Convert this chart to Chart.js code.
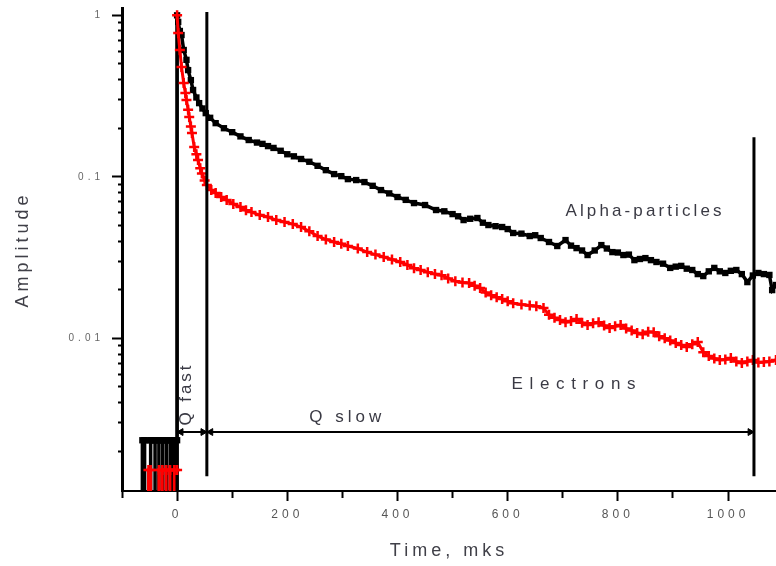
<!DOCTYPE html>
<html>
<head>
<meta charset="utf-8">
<script src="https://cdn.jsdelivr.net/npm/chart.js@4/dist/chart.umd.min.js"></script>
<style>
html,body{margin:0;padding:0;background:#fff;}
#wrap{width:776px;height:566px;}
</style>
</head>
<body>
<div id="wrap"><canvas id="c" width="776" height="566"></canvas></div>
<script>
// ---------- data ----------
const LOW = 0.0008; // below the axis floor -> drawn as drops to the axis
const alphaX = [-63,-63,-59,-59,-59,-48,-48,-48,-40,-40,-40,-33,-33,-33,-26,-26,-26,-19,-19,-19,-12,-12,-12,-6,-6,-6,0,0,
  0,2,5,8,12,17,20,25,29,35,40,46,52,60,70,85,100,115,130,145,155,165,175,188,200,212,225,240,255,270,285,298,310,325,340,355,370,385,400,415,430,450,470,485,500,510,520,532,545,555,565,578,590,600,610,625,640,650,660,675,690,705,715,725,735,745,758,770,780,790,800,810,820,830,840,850,860,870,882,895,905,915,925,935,945,955,965,975,985,995,1005,1015,1025,1035,1045,1055,1065,1075,1080,1087];
const alphaY = [LOW,0.00234,0.00234,LOW,0.00234,0.00234,LOW,0.00234,0.00234,LOW,0.00234,0.00234,LOW,0.00234,0.00234,LOW,0.00234,0.00234,LOW,0.00234,0.00234,LOW,0.00234,0.00234,LOW,0.00234,0.00234,LOW,
  1.0,0.91,0.8,0.755,0.61,0.53,0.458,0.397,0.345,0.31,0.286,0.265,0.248,0.232,0.215,0.2,0.189,0.178,0.169,0.163,0.160,0.155,0.151,0.145,0.138,0.134,0.129,0.124,0.117,0.11,0.104,0.101,0.0968,0.0955,0.0928,0.088,0.0828,0.079,0.075,0.072,0.0688,0.0669,0.0623,0.0612,0.0588,0.057,0.054,0.055,0.0556,0.052,0.0503,0.0495,0.0489,0.0475,0.0449,0.0445,0.043,0.0435,0.0418,0.0395,0.0373,0.0406,0.0375,0.0362,0.035,0.0328,0.035,0.0378,0.036,0.0342,0.034,0.0328,0.033,0.0305,0.031,0.0314,0.0305,0.0297,0.029,0.0273,0.0278,0.0281,0.027,0.0265,0.025,0.0243,0.026,0.0273,0.026,0.0254,0.0262,0.0265,0.025,0.0223,0.0245,0.0254,0.025,0.0247,0.0199,0.0214];

const electronX = [-52,-52,-48,-48,-33,-33,-27,-27,-27,-20,-20,-20,-13,-13,-13,-5,-5,-5,0,0,
  0,2,5,8,12,15,17,20,22,25,27,31,35,38,42,45,50,54,62,70,80,90,102,115,125,135,150,165,180,195,210,225,240,255,270,285,298,310,328,345,360,375,390,405,418,430,442,455,468,480,492,505,518,530,540,550,560,570,580,590,600,610,625,640,652,665,675,685,695,705,715,725,735,745,755,765,775,785,795,805,815,825,835,845,855,865,875,885,895,905,915,925,935,945,955,965,975,985,995,1005,1015,1025,1035,1045,1055,1065,1075,1087];
const electronY = [LOW,0.00153,0.00153,LOW,LOW,0.00153,0.00153,LOW,0.00153,0.00153,LOW,0.00153,0.00153,LOW,0.00153,0.00153,LOW,0.00153,0.00153,LOW,
  1.0,0.777,0.61,0.479,0.381,0.33,0.299,0.26,0.235,0.205,0.187,0.153,0.138,0.127,0.113,0.105,0.095,0.0889,0.083,0.0794,0.075,0.0718,0.068,0.065,0.062,0.0605,0.058,0.0564,0.054,0.0525,0.051,0.0489,0.046,0.043,0.041,0.0395,0.0385,0.0373,0.036,0.0342,0.033,0.0319,0.0308,0.0297,0.0285,0.0272,0.0265,0.0257,0.025,0.0246,0.0235,0.0226,0.0222,0.022,0.0212,0.0205,0.0192,0.0185,0.018,0.0175,0.017,0.0165,0.0162,0.016,0.0158,0.0154,0.014,0.0134,0.013,0.0126,0.0128,0.0132,0.0125,0.0121,0.0124,0.0126,0.012,0.0116,0.0119,0.0121,0.0115,0.0112,0.0108,0.0106,0.011,0.0109,0.0103,0.01,0.0097,0.00935,0.0091,0.00883,0.0092,0.00948,0.0082,0.00777,0.0075,0.00734,0.0074,0.00755,0.0072,0.00703,0.0072,0.00734,0.0071,0.00713,0.0072,0.00734];

const xTickLabels = ['0','200','400','600','800','1000'];
const yTickLabels = ['1','0.1','0.01'];

// region markers (data units)
const regionLineX = [54, 1047];
const regionLineTop = [1.05, 0.176];
const regionLineBottom = 0.0014;
const arrowLevel = 0.00263;
const arrowSpan = [0, 1047];
const arrowHeadX = [7, 47, 61, 1040];
const arrowHeadRot = [-90, 90, -90, 90];

const noteTexts = ['Alpha-particles', 'Electrons', 'Q slow', 'Q fast'];
const noteX = [705, 607, 240, 16];
const noteY = [0.0614, 0.00521, 0.00326, 0.00452];
const noteWidth = [156, 124, 72, 60];
const noteVertical = [false, false, false, true];

// ---------- helpers ----------
const FONT = '"Liberation Sans", Arial, sans-serif';
const pts = (xs, ys) => xs.map((x, i) => ({x, y: ys[i]}));
const isNice = v => { const e = Math.floor(Math.log10(v) + 1e-9); const s = v / Math.pow(10, e); return Math.abs(s - Math.round(s)) < 1e-6; };
const isDecade = v => Math.abs(Math.log10(v) - Math.round(Math.log10(v))) < 1e-6;

const datasets = [];
datasets.push({
  data: pts(electronX, electronY), borderColor: '#ff0000', backgroundColor: '#ff0000',
  borderWidth: 3, pointStyle: 'cross', pointRadius: 5, pointBorderWidth: 2.5, tension: 0, order: 1,
  segment: {borderColor: c => (c.p0.parsed.x === 0 && c.p1.parsed.x === 0) ? '#000' : undefined}
});
datasets.push({
  data: pts(alphaX, alphaY), borderColor: '#000', backgroundColor: '#000',
  borderWidth: 3.5, pointStyle: 'rect', pointRadius: 4.5, pointBorderWidth: 0, tension: 0, order: 2
});
regionLineX.forEach((x, i) => datasets.push({
  data: [{x, y: regionLineTop[i]}, {x, y: regionLineBottom}],
  borderColor: '#000', borderWidth: 3, pointRadius: 0, order: 0
}));
datasets.push({
  data: [{x: arrowSpan[0], y: arrowLevel}, {x: arrowSpan[1], y: arrowLevel}],
  borderColor: '#000', borderWidth: 2, pointRadius: 0, order: 0
});
datasets.push({
  data: arrowHeadX.map(x => ({x, y: arrowLevel})), showLine: false,
  pointStyle: 'triangle', pointRadius: 4, pointRotation: arrowHeadRot,
  pointBackgroundColor: '#000', pointBorderColor: '#000', pointBorderWidth: 1, order: 0
});

const textPlugin = {
  id: 'texts',
  beforeLayout(chart) { chart.ctx.letterSpacing = '4px'; },
  beforeDraw(chart) { chart.ctx.letterSpacing = '4px'; },
  afterDraw(chart) {
    const {ctx, scales: {x, y}} = chart;
    noteTexts.forEach((t, i) => {
      ctx.save();
      ctx.font = '17px ' + FONT;
      ctx.fillStyle = '#3a3a44';
      ctx.letterSpacing = '0px';
      const w0 = ctx.measureText(t).width;
      ctx.letterSpacing = ((noteWidth[i] - w0) / (t.length - 1)) + 'px';
      ctx.textBaseline = 'middle';
      const px = x.getPixelForValue(noteX[i]);
      const py = y.getPixelForValue(noteY[i]);
      if (noteVertical[i]) {
        ctx.translate(px, py);
        ctx.rotate(-Math.PI / 2);
        ctx.textAlign = 'center';
        ctx.fillText(t, 0, 0);
      } else {
        ctx.textAlign = 'left';
        ctx.fillText(t, px, py);
      }
      ctx.restore();
    });
  }
};

new Chart(document.getElementById('c'), {
  type: 'line',
  data: {datasets},
  plugins: [textPlugin],
  options: {
    responsive: false,
    animation: false,
    devicePixelRatio: 1,
    layout: {autoPadding: false, padding: {top: 8, right: 0, left: 0, bottom: 0}},
    plugins: {legend: {display: false}, tooltip: {enabled: false}},
    scales: {
      x: {
        type: 'linear', position: 'bottom', min: -100, max: 1087,
        border: {display: true, color: '#000', width: 2},
        grid: {
          drawOnChartArea: false, drawTicks: true, tickLength: 10, tickWidth: 2, tickColor: '#000',
          tickBorderDash: c => (c.tick && c.tick.value >= 0 && c.tick.value % 200 === 0) ? [] : [6, 100]
        },
        ticks: {
          stepSize: 100, includeBounds: false, autoSkip: false, maxRotation: 0, padding: 6,
          color: '#555', font: {size: 12, family: FONT},
          callback: v => xTickLabels.includes(String(v)) ? String(v) : ''
        },
        title: {display: true, text: 'Time, mks', color: '#404048', font: {size: 18, family: FONT}, padding: {top: 0, bottom: 4}},
        afterFit: s => { s.height = 75; s.paddingLeft = 0; s.paddingRight = 0; }
      },
      y: {
        type: 'logarithmic', position: 'left', min: 0.001135, max: 1.11,
        border: {display: true, color: '#000', width: 3},
        grid: {
          drawOnChartArea: false, drawTicks: true, tickLength: 10, tickWidth: 2,
          tickColor: c => (c.tick && isNice(c.tick.value)) ? '#000' : 'rgba(0,0,0,0)',
          tickBorderDash: c => (c.tick && isDecade(c.tick.value)) ? [] : [0, 6, 4, 0]
        },
        ticks: {
          autoSkip: false, padding: 8, color: '#666', font: {size: 10, family: FONT},
          callback: v => { const s = isDecade(v) ? String(Number(v.toPrecision(3))) : ''; return yTickLabels.includes(s) ? s : ''; }
        },
        title: {display: true, text: 'Amplitude', color: '#404048', font: {size: 18, family: FONT}, padding: {top: 12, bottom: 0}},
        afterFit: s => { s.width = 122; s.paddingTop = 0; s.paddingBottom = 0; }
      }
    }
  }
});
</script>
</body>
</html>
